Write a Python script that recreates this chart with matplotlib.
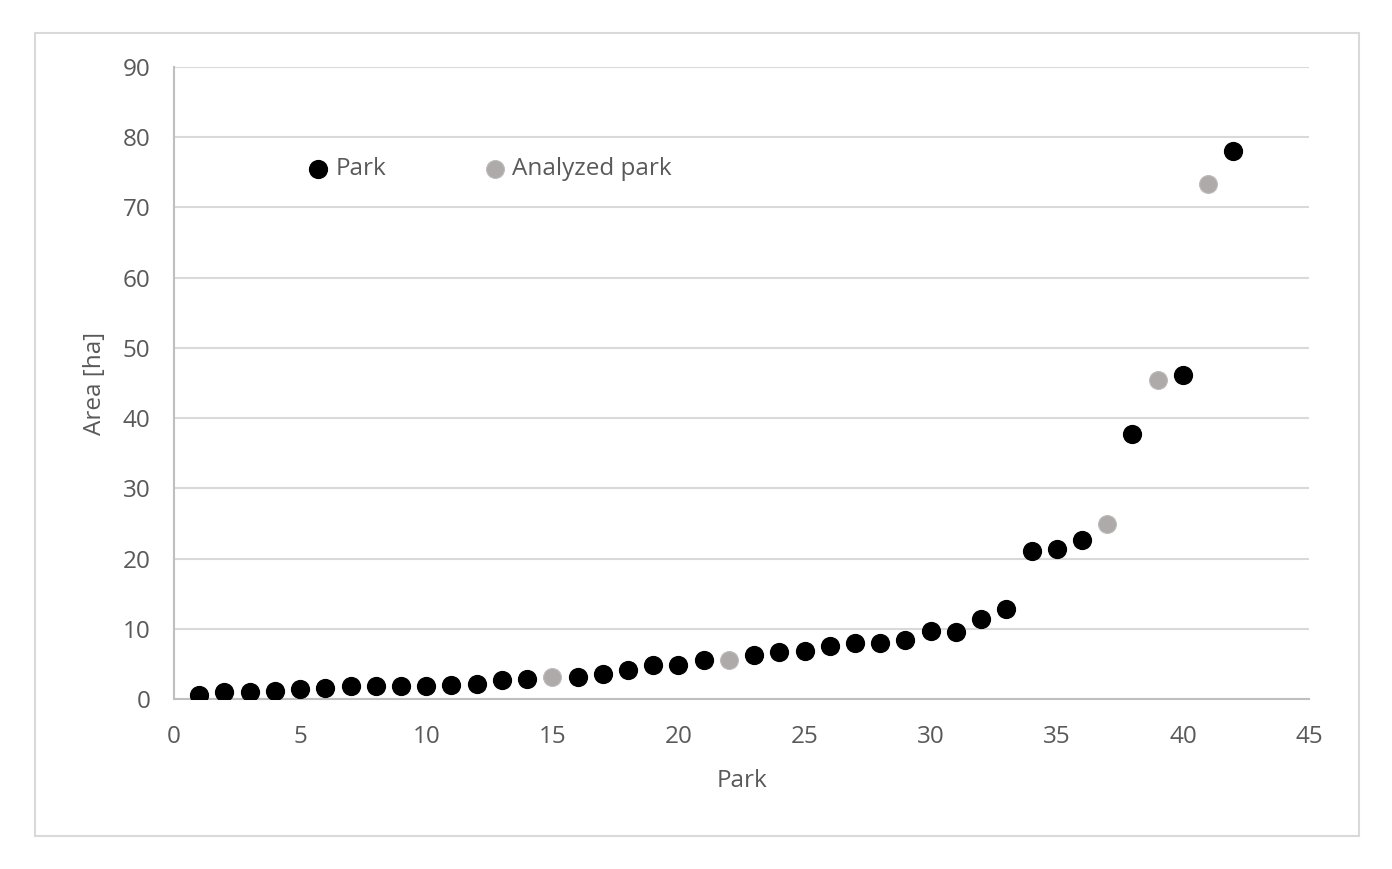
import matplotlib.pyplot as plt
from matplotlib.patches import Rectangle

# park number and area [ha]
park = list(range(1, 43))
area = [0.6, 1.0, 1.0, 1.1, 1.4, 1.6, 1.8, 1.8, 1.8, 1.8,
        2.0, 2.2, 2.7, 2.9, 3.1, 3.1, 3.5, 4.1, 4.8, 4.8,
        5.6, 5.6, 6.3, 6.7, 6.9, 7.6, 8.0, 8.0, 8.4, 9.7,
        9.6, 11.4, 12.8, 21.1, 21.3, 22.7, 24.9, 37.7, 45.4, 46.2,
        73.3, 78.0]
analyzed = [15, 22, 37, 39, 41]

x_ticks = [0, 5, 10, 15, 20, 25, 30, 35, 40, 45]
y_ticks = [0, 10, 20, 30, 40, 50, 60, 70, 80, 90]

plt.rcParams['font.family'] = ['Open Sans', 'DejaVu Sans']
txt = '#595959'
grid = '#d9d9d9'
fs = 17.5

fig = plt.figure(figsize=(13.92, 8.69), dpi=100)
ax = fig.add_axes([0.125, 0.1956, 0.8154, 0.7273])

# outer chart border
fig.patches.append(Rectangle((0.0251, 0.038), 0.951, 0.924, transform=fig.transFigure,
                             fill=False, edgecolor=grid, linewidth=1.5))

px = [p for p in park if p not in analyzed]
py = [a for p, a in zip(park, area) if p not in analyzed]
ax_x = [p for p in park if p in analyzed]
ax_y = [a for p, a in zip(park, area) if p in analyzed]

ax.scatter(px, py, s=165, color='black', zorder=3, label='Park')
ax.scatter(ax_x, ax_y, s=165, color='#aeaaaa', edgecolors='#bdbaba', linewidths=0.8,
           zorder=3, label='Analyzed park')

ax.set_xlim(0, 45)
ax.set_ylim(0, 90)
ax.set_xticks(x_ticks)
ax.set_yticks(y_ticks)
ax.yaxis.grid(True, color=grid, linewidth=1.5)
ax.set_axisbelow(True)
for s in ['top', 'right']:
    ax.spines[s].set_visible(False)
for s in ['left', 'bottom']:
    ax.spines[s].set_color('#bfbfbf')
    ax.spines[s].set_linewidth(1.5)
ax.tick_params(axis='both', colors=txt, labelsize=fs, length=0)
ax.tick_params(axis='y', pad=17)
ax.tick_params(axis='x', pad=19)

ax.set_xlabel('Park', color=txt, fontsize=fs, labelpad=14)
ax.set_ylabel('Area [ha]', color=txt, fontsize=fs, labelpad=11)

ax.legend(loc='center left', bbox_to_anchor=(0.1163, 0.838), ncol=2, frameon=False,
          fontsize=fs, labelcolor=txt, handlelength=1.0, handletextpad=0.2,
          columnspacing=4.0, borderpad=0, borderaxespad=0, markerscale=1.0)

fig.savefig('out.png', dpi=100)
